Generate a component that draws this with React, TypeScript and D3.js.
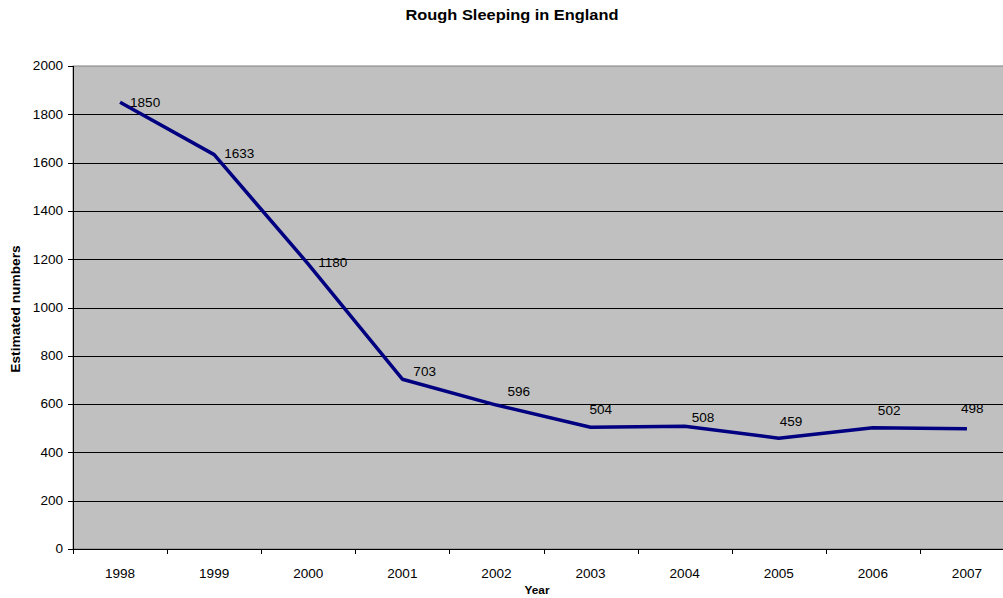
import React from "react";
import * as d3 from "d3";

const years = ["1998", "1999", "2000", "2001", "2002", "2003", "2004", "2005", "2006", "2007"];
const roughSleepers = [1850, 1633, 1180, 703, 596, 504, 508, 459, 502, 498];
const yTicks = [0, 200, 400, 600, 800, 1000, 1200, 1400, 1600, 1800, 2000];
// manual label nudges (dx, dy) relative to each point, as in the original
const labelDx = [10, 10, 10, 11, 11, -1, 7, 1, 5, -6];
const labelDy = [0, -1, -1, -8, -13, -18, -9, -16, -17, -20];

const W = 1003;
const H = 598;
const M = { left: 73, top: 66, right: 1014, bottom: 549 };
const FONT = "'Liberation Sans', Arial, sans-serif";
const SX = 1.13; // the original is slightly stretched horizontally

type TProps = {
  x: number;
  y: number;
  anchor?: "start" | "middle" | "end";
  size: number;
  bold?: boolean;
  children: React.ReactNode;
};

function T({ x, y, anchor = "start", size, bold, children }: TProps) {
  return (
    <text
      transform={`translate(${x},${y}) scale(${SX},1)`}
      textAnchor={anchor}
      fontSize={size}
      fontWeight={bold ? "bold" : "normal"}
      fill="#000"
    >
      {children}
    </text>
  );
}

export default function App() {
  const x = d3.scaleBand<string>().domain(years).range([M.left, M.right]).paddingInner(0).paddingOuter(0);
  const y = d3.scaleLinear().domain([0, 2000]).range([M.bottom, M.top]);
  const cx = (i: number) => (x(years[i]) as number) + x.bandwidth() / 2;
  const line = d3
    .line<number>()
    .x((_, i) => cx(i))
    .y((d) => y(d));

  const catTicks = years.map((_, i) => M.left + i * x.bandwidth()).concat([M.right]);

  return (
    <svg
      width={W}
      height={H}
      style={{ position: "absolute", left: 0, top: 0, background: "#fff" }}
      fontFamily={FONT}
    >
      <T x={512} y={20} anchor="middle" size={14.5} bold>
        Rough Sleeping in England
      </T>
      <rect x={M.left} y={M.top} width={M.right - M.left} height={M.bottom - M.top} fill="#C0C0C0" stroke="#808080" />
      {yTicks.map((t) => (
        <g key={t}>
          {t > 0 && t < 2000 && (
            <line x1={M.left} x2={M.right} y1={Math.round(y(t)) + 0.5} y2={Math.round(y(t)) + 0.5} stroke="#000" strokeWidth={1} />
          )}
          <line x1={M.left - 5} x2={M.left} y1={Math.round(y(t)) + 0.5} y2={Math.round(y(t)) + 0.5} stroke="#000" />
          <T x={63} y={y(t) + 4.3} anchor="end" size={12}>
            {t}
          </T>
        </g>
      ))}
      <line x1={M.left + 0.5} x2={M.left + 0.5} y1={M.top} y2={M.bottom} stroke="#000" />
      <line x1={M.left} x2={M.right} y1={M.bottom + 0.5} y2={M.bottom + 0.5} stroke="#000" />
      {catTicks.map((tx, i) => (
        <line key={i} x1={Math.round(tx) + 0.5} x2={Math.round(tx) + 0.5} y1={M.bottom} y2={M.bottom + 5} stroke="#000" />
      ))}
      {years.map((yr, i) => (
        <T key={yr} x={cx(i)} y={578} anchor="middle" size={12}>
          {yr}
        </T>
      ))}
      <path d={line(roughSleepers) || ""} fill="none" stroke="#000080" strokeWidth={3.5} strokeLinejoin="round" />
      {roughSleepers.map((v, i) => (
        <T key={i} x={cx(i) + labelDx[i]} y={y(v) + labelDy[i] + 4.3} size={12}>
          {v}
        </T>
      ))}
      <T x={537} y={594} anchor="middle" size={10.5} bold>
        Year
      </T>
      <text
        transform={`translate(20,309) rotate(-90) scale(1.1,1)`}
        textAnchor="middle"
        fontSize={12.5}
        fontWeight="bold"
        fill="#000"
      >
        Estimated numbers
      </text>
    </svg>
  );
}
